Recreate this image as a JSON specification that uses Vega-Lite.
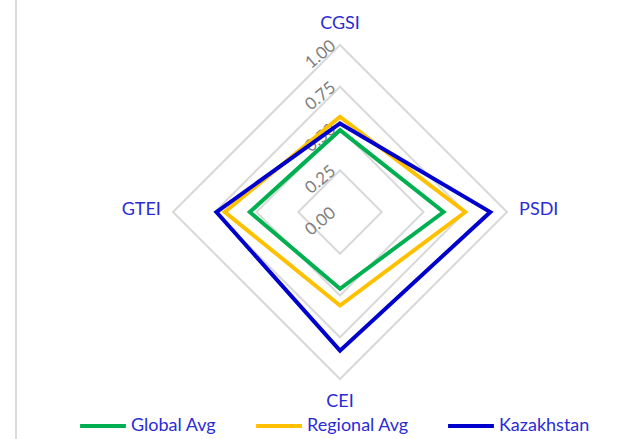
{
  "$schema": "https://vega.github.io/schema/vega-lite/v6.json",
  "width": 334,
  "height": 334,
  "autosize": "none",
  "padding": {"left": 173, "top": 45, "right": 127, "bottom": 60},
  "background": "white",
  "config": {"view": {"stroke": null}, "font": "Lato"},
  "datasets": {
    "scores": [
      {"series": "Global Avg", "indicator": "CGSI", "value": 0.49},
      {"series": "Global Avg", "indicator": "PSDI", "value": 0.62},
      {"series": "Global Avg", "indicator": "CEI", "value": 0.46},
      {"series": "Global Avg", "indicator": "GTEI", "value": 0.54},
      {"series": "Regional Avg", "indicator": "CGSI", "value": 0.57},
      {"series": "Regional Avg", "indicator": "PSDI", "value": 0.75},
      {"series": "Regional Avg", "indicator": "CEI", "value": 0.56},
      {"series": "Regional Avg", "indicator": "GTEI", "value": 0.69},
      {"series": "Kazakhstan", "indicator": "CGSI", "value": 0.53},
      {"series": "Kazakhstan", "indicator": "PSDI", "value": 0.90},
      {"series": "Kazakhstan", "indicator": "CEI", "value": 0.83},
      {"series": "Kazakhstan", "indicator": "GTEI", "value": 0.74}
    ],
    "grid": [
      {"level": 0.25, "indicator": "CGSI"}, {"level": 0.25, "indicator": "PSDI"}, {"level": 0.25, "indicator": "CEI"}, {"level": 0.25, "indicator": "GTEI"},
      {"level": 0.5, "indicator": "CGSI"}, {"level": 0.5, "indicator": "PSDI"}, {"level": 0.5, "indicator": "CEI"}, {"level": 0.5, "indicator": "GTEI"},
      {"level": 0.75, "indicator": "CGSI"}, {"level": 0.75, "indicator": "PSDI"}, {"level": 0.75, "indicator": "CEI"}, {"level": 0.75, "indicator": "GTEI"},
      {"level": 1.0, "indicator": "CGSI"}, {"level": 1.0, "indicator": "PSDI"}, {"level": 1.0, "indicator": "CEI"}, {"level": 1.0, "indicator": "GTEI"}
    ],
    "ticks": [
      {"level": 0.0}, {"level": 0.25}, {"level": 0.5}, {"level": 0.75}, {"level": 1.0}
    ],
    "categories": [
      {"indicator": "CGSI"}, {"indicator": "PSDI"}, {"indicator": "CEI"}, {"indicator": "GTEI"}
    ]
  },
  "layer": [
    {
      "data": {"values": [{"edge": "left"}]},
      "mark": {"type": "rule", "color": "#D9D9D9", "strokeWidth": 2},
      "encoding": {
        "x": {"datum": -1.94, "type": "quantitative", "scale": {"domain": [-1, 1], "nice": false, "zero": false}, "axis": null},
        "y": {"datum": 1.28, "type": "quantitative", "scale": {"domain": [-1, 1], "nice": false, "zero": false}, "axis": null},
        "y2": {"datum": -1.37}
      }
    },
    {
      "data": {"name": "grid"},
      "transform": [
        {"calculate": "indexof(['CGSI','PSDI','CEI','GTEI'], datum.indicator)", "as": "idx"},
        {"calculate": "datum.idx == 1 ? datum.level : (datum.idx == 3 ? -datum.level : 0)", "as": "px"},
        {"calculate": "datum.idx == 0 ? datum.level : (datum.idx == 2 ? -datum.level : 0)", "as": "py"}
      ],
      "mark": {"type": "line", "interpolate": "linear-closed", "color": "#D9D9D9", "strokeWidth": 2},
      "encoding": {
        "x": {"field": "px", "type": "quantitative", "scale": {"domain": [-1, 1], "nice": false, "zero": false}, "axis": null},
        "y": {"field": "py", "type": "quantitative", "scale": {"domain": [-1, 1], "nice": false, "zero": false}, "axis": null},
        "detail": {"field": "level", "type": "nominal"},
        "order": {"field": "idx", "type": "quantitative"}
      }
    },
    {
      "data": {"name": "ticks"},
      "mark": {"type": "text", "angle": 320, "align": "center", "baseline": "middle", "dx": -21, "dy": -5, "fontSize": 17, "color": "#808080"},
      "encoding": {
        "x": {"datum": 0, "type": "quantitative"},
        "y": {"field": "level", "type": "quantitative"},
        "text": {"field": "level", "type": "quantitative", "format": ".2f"}
      }
    },
    {
      "data": {"name": "scores"},
      "transform": [
        {"calculate": "indexof(['CGSI','PSDI','CEI','GTEI'], datum.indicator)", "as": "idx"},
        {"calculate": "datum.idx == 1 ? datum.value : (datum.idx == 3 ? -datum.value : 0)", "as": "px"},
        {"calculate": "datum.idx == 0 ? datum.value : (datum.idx == 2 ? -datum.value : 0)", "as": "py"}
      ],
      "mark": {"type": "line", "interpolate": "linear-closed", "strokeJoin": "miter"},
      "encoding": {
        "x": {"field": "px", "type": "quantitative"},
        "y": {"field": "py", "type": "quantitative"},
        "order": {"field": "idx", "type": "quantitative"},
        "color": {
          "field": "series", "type": "nominal",
          "sort": ["Global Avg", "Regional Avg", "Kazakhstan"],
          "scale": {"domain": ["Global Avg", "Regional Avg", "Kazakhstan"], "range": ["#00B050", "#FFC000", "#0000CC"]},
          "legend": {
            "title": null, "orient": "none", "direction": "horizontal", "columns": 3,
            "legendX": -95, "legendY": 356,
            "symbolType": "stroke", "symbolSize": 2100, "symbolStrokeWidth": 5,
            "labelFont": "Lato", "labelFontSize": 18, "labelColor": "#2B2BD6", "labelOffset": 3,
            "columnPadding": 31, "padding": 0
          }
        },
        "strokeWidth": {
          "field": "series", "type": "nominal",
          "scale": {"domain": ["Global Avg", "Regional Avg", "Kazakhstan"], "range": [4, 4, 5]},
          "legend": null
        }
      }
    },
    {
      "data": {"name": "categories"},
      "transform": [
        {"calculate": "indexof(['CGSI','PSDI','CEI','GTEI'], datum.indicator)", "as": "idx"},
        {"calculate": "datum.idx == 1 ? 1.19 : (datum.idx == 3 ? -1.19 : 0)", "as": "lx"},
        {"calculate": "datum.idx == 0 ? 1.125 : (datum.idx == 2 ? -1.14 : 0.01)", "as": "ly"}
      ],
      "mark": {"type": "text", "align": "center", "baseline": "middle", "fontSize": 18, "color": "#2B2BD6"},
      "encoding": {
        "x": {"field": "lx", "type": "quantitative"},
        "y": {"field": "ly", "type": "quantitative"},
        "text": {"field": "indicator", "type": "nominal"}
      }
    }
  ]
}
